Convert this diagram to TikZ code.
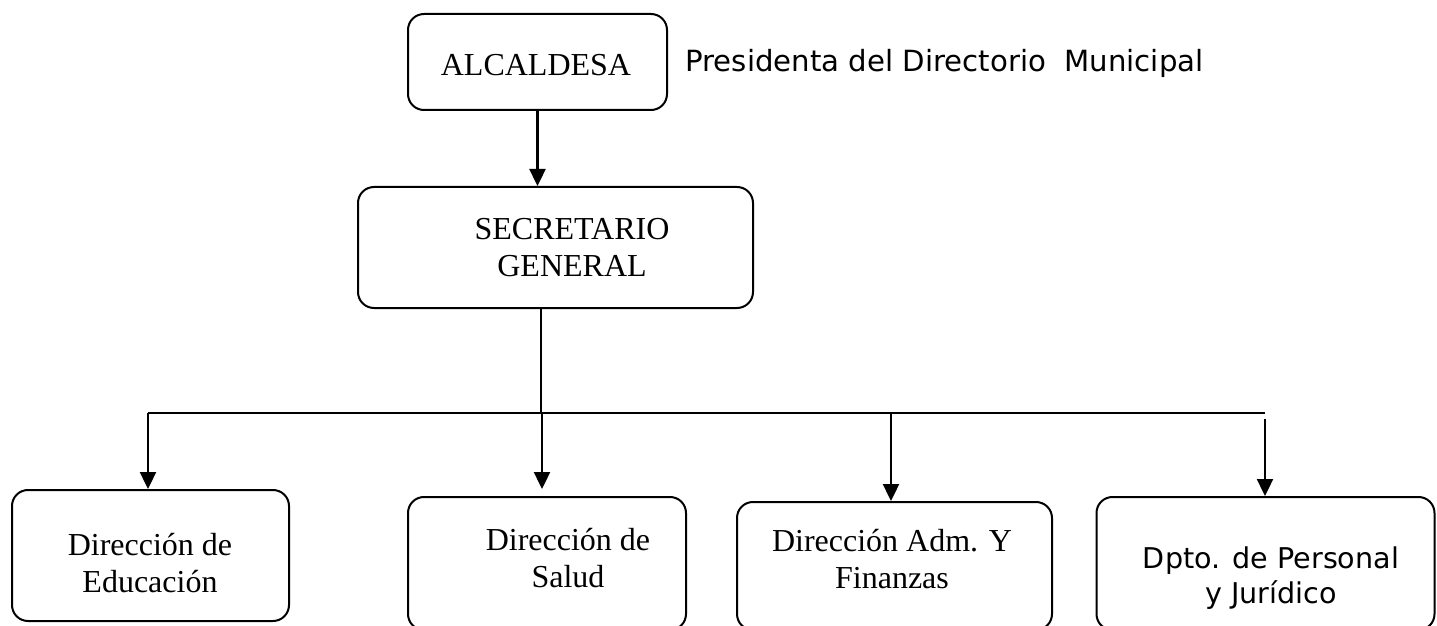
\documentclass[tikz,border=0pt]{standalone}
\usepackage{fontspec}
\setmainfont{Liberation Serif}
\newfontfamily\vsans{DejaVu Sans}
\usetikzlibrary{arrows.meta}
\tikzset{
  orgbox/.style={draw, line width=1pt, rounded corners=8pt, inner sep=0pt},
  serift/.style={inner sep=0pt, align=center, font=\fontsize{16}{18.5}\selectfont},
  sanst/.style={inner sep=0pt, align=center, font=\vsans\fontsize{14.3}{17.5}\selectfont},
  conn/.style={line width=1.1pt},
  arr/.style={line width=1.2pt, -{Triangle[width=8pt,length=8.5pt]}}
}
\begin{document}
\begin{tikzpicture}[x=0.5pt,y=-0.5pt]
\useasboundingbox (0,0) rectangle (1437,626);
\clip (0,0) rectangle (1437,626);
% boxes
\node[orgbox, minimum width=129.5pt, minimum height=48pt] (alc) at (537.5,62) {};
\node[orgbox, minimum width=197.5pt, minimum height=60.5pt] (sec) at (555.5,247.5) {};
\node[orgbox, minimum width=138.5pt, minimum height=65.5pt] (edu) at (150.5,555.5) {};
\node[orgbox, minimum width=139pt, minimum height=66.5pt] (sal) at (547,563.5) {};
\node[orgbox, minimum width=157.5pt, minimum height=64pt] (adm) at (894.5,566) {};
\node[orgbox, minimum width=169pt, minimum height=66.5pt] (dpt) at (1265.5,563.5) {};
% texts
\node[serift, anchor=base] (talc) at (536,76) {ALCALDESA};
\node[sanst, font=\vsans\fontsize{14.6}{17.5}\selectfont, anchor=base west] (tpres) at (685,72) {Presidenta del Directorio\ \ Municipal};
\node[serift] (tsec) at (572,248) {SECRETARIO\\GENERAL};
\node[serift] (tedu) at (150,563) {Dirección de\\Educación};
\node[serift] (tsal) at (568,558) {Dirección de\\Salud};
\node[serift] (tadm) at (892,559) {Dirección Adm. Y\\Finanzas};
\node[sanst] (tdpt) at (1271,578) {Dpto. de Personal\\y Jurídico};
% connector coordinates
\coordinate (j) at (541,413);
\coordinate (hl) at (148,413);
\coordinate (hr) at (1265,413);
\coordinate (sa) at (542,413);
\coordinate (se) at (542,489);
\coordinate (aa) at (891,413);
\coordinate (da) at (1265,419);
% connectors
\draw[arr] (alc.south) -- (alc.south |- sec.north);
\draw[conn] (j |- sec.south) -- (j);
\draw[conn] (hl) -- (hr);
\draw[arr] (hl) -- (hl |- edu.north);
\draw[arr] (sa) -- (se);
\draw[arr] (aa) -- (aa |- adm.north);
\draw[arr] (da) -- (da |- dpt.north);
\end{tikzpicture}
\end{document}
